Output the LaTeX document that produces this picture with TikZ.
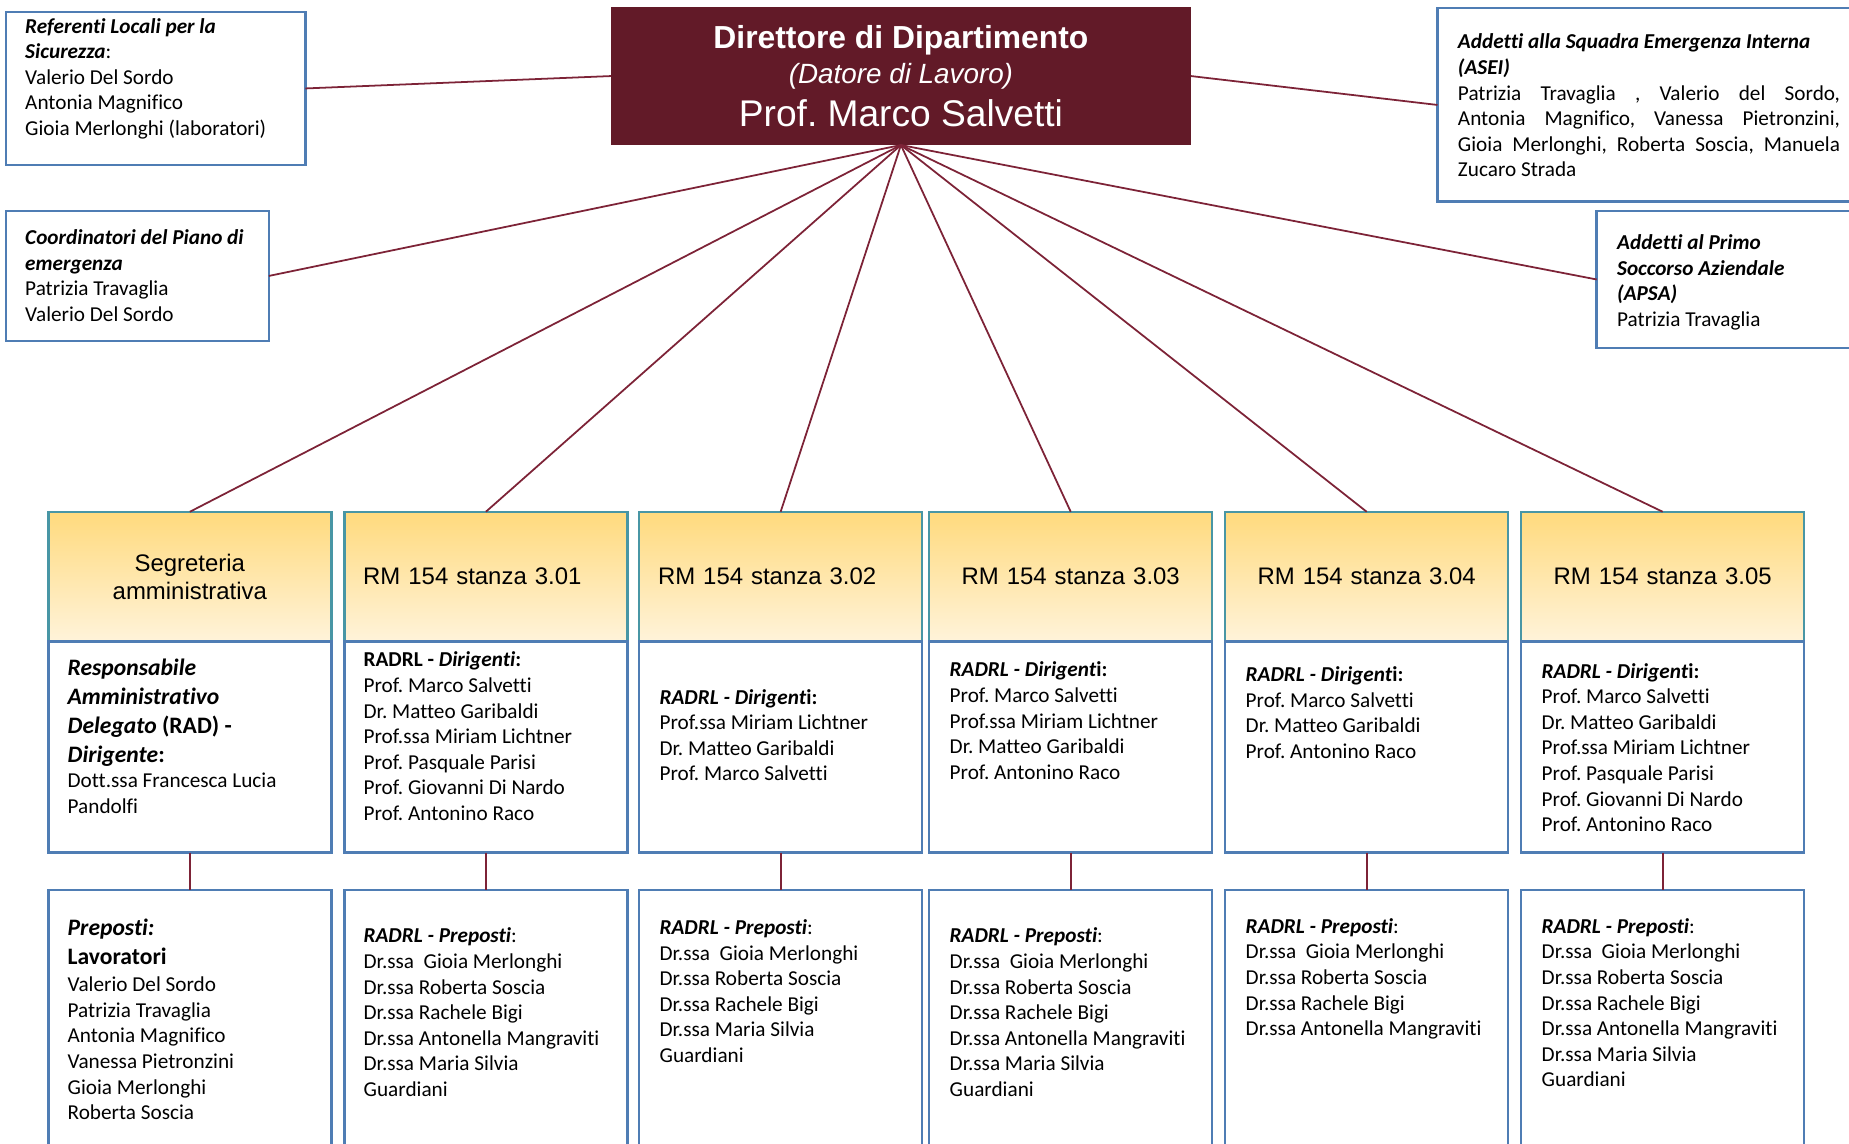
\documentclass[tikz,border=0pt]{standalone}
\usepackage{fontspec}
\setmainfont{Carlito}[Ligatures=NoCommon]
\newfontfamily\arialfont{Liberation Sans}
\usetikzlibrary{positioning}
\frenchspacing

\definecolor{bossred}{RGB}{98,26,40}
\definecolor{linkred}{RGB}{125,35,55}
\definecolor{boxblue}{RGB}{79,125,180}
\definecolor{roomteal}{RGB}{72,150,165}
\definecolor{roomtop}{RGB}{255,218,125}
\definecolor{roombot}{RGB}{255,243,218}

\newcommand{\bfit}[1]{\textbf{\textit{#1}}}
\newcommand{\leadfont}{\fontsize{10}{12.25}\selectfont}

\begin{document}
\begin{tikzpicture}[
    x=0.5pt, y=-0.5pt,
    boss/.style={rectangle, fill=bossred, text=white, minimum width=246pt, minimum height=58.5pt, inner sep=0pt, outer sep=0pt, align=center, font=\arialfont\fontsize{11.8}{14.9}\selectfont},
    infobox/.style={rectangle, draw=boxblue, line width=1pt, fill=white, inner sep=0pt, outer sep=0pt, anchor=north west},
    room/.style={rectangle, draw=roomteal, line width=1pt, top color=roomtop, bottom color=roombot, minimum width=120pt, minimum height=55pt, inner xsep=8pt, inner ysep=0pt, outer sep=0pt, text width=104pt, align=center, anchor=north west, font=\arialfont\fontsize{10.15}{12}\selectfont},
    staff/.style={infobox, minimum width=120pt, minimum height=89.5pt},
    lowbox/.style={infobox, minimum width=120pt, minimum height=125pt},
    names/.style={inner sep=0pt, align=left, font=\fontsize{9}{10.85}\selectfont},
    link/.style={draw=linkred, line width=0.75pt}
  ]

  \clip (0,0) rectangle (1568,969.3);

  % --- DIRETTORE ---
  \node[boss] (boss) at (764,64.5) {{\fontsize{13.5}{15}\selectfont\bfseries Direttore di Dipartimento}\\ {\itshape (Datore di Lavoro)}\\[3pt] {\fontsize{15.75}{18}\selectfont Prof. Marco Salvetti}};

  % --- INCARICHI ---
  \node[infobox, minimum width=127pt, minimum height=65pt] (ref) at (5,10) {};
  \node[names, below right=2.5pt and 8pt of ref.north west] (reftxt) {\bfit{Referenti Locali per la}\\ \bfit{Sicurezza}:\\ Valerio Del Sordo\\ Antonia Magnifico\\ Gioia Merlonghi (laboratori)};

  \node[infobox, minimum width=111.5pt, minimum height=55pt] (coord) at (5,179) {};
  \node[names, below right=7.75pt and 8pt of coord.north west] (coordtxt) {\bfit{Coordinatori del Piano di}\\ \bfit{emergenza}\\ Patrizia Travaglia\\ Valerio Del Sordo};

  \node[infobox, minimum width=200pt, minimum height=82pt] (asei) at (1219,7) {};
  \node[names, below right=10.75pt and 8.5pt of asei.north west] (aseitxt) {\bfit{Addetti alla Squadra Emergenza Interna}\\ \bfit{(ASEI)}\\
    \makebox[162pt][s]{Patrizia Travaglia , Valerio del Sordo,}\\
    \makebox[162pt][s]{Antonia Magnifico, Vanessa Pietronzini,}\\
    \makebox[162pt][s]{Gioia Merlonghi, Roberta Soscia, Manuela}\\
    Zucaro Strada};

  \node[infobox, minimum width=150pt, minimum height=58pt] (apsa) at (1354,179) {};
  \node[names, below right=9.75pt and 8.5pt of apsa.north west] (apsatxt) {\bfit{Addetti al Primo}\\ \bfit{Soccorso Aziendale}\\ \bfit{(APSA)}\\ Patrizia Travaglia};

  % --- STANZE ---
  \node[room] (h1) at (41,434) {Segreteria\\ amministrativa};
  \node[room, align=left] (h2) at (292,434) {RM 154 stanza 3.01};
  \node[room, align=left] (h3) at (542,434) {RM 154 stanza 3.02};
  \node[room] (h4) at (788,434) {RM 154 stanza 3.03};
  \node[room] (h5) at (1039,434) {RM 154 stanza 3.04};
  \node[room] (h6) at (1290,434) {RM 154 stanza 3.05};

  \node[staff, below=0pt of h1] (m1) {};
  \node[staff, below=0pt of h2] (m2) {};
  \node[staff, below=0pt of h3] (m3) {};
  \node[staff, below=0pt of h4] (m4) {};
  \node[staff, below=0pt of h5] (m5) {};
  \node[staff, below=0pt of h6] (m6) {};

  \node[lowbox, below=16pt of m1] (l1) {};
  \node[lowbox, below=16pt of m2] (l2) {};
  \node[lowbox, below=16pt of m3] (l3) {};
  \node[lowbox, below=16pt of m4] (l4) {};
  \node[lowbox, below=16pt of m5] (l5) {};
  \node[lowbox, below=16pt of m6] (l6) {};

  % Dirigenti
  \node[names, below right=7.35pt and 8pt of m1.north west] (m1txt) {{\leadfont\bfit{Responsabile}}\\[1.4pt] {\leadfont\bfit{Amministrativo}}\\[1.4pt] {\leadfont\bfit{Delegato}\textbf{ (RAD) -}}\\[1.2pt] {\leadfont\bfit{Dirigente}\textbf{:}}\\ Dott.ssa Francesca Lucia\\ Pandolfi};
  \node[names, below right=4.25pt and 8pt of m2.north west] (m2txt) {\textbf{RADRL - \textit{Dirigenti}:}\\ Prof. Marco Salvetti\\ Dr. Matteo Garibaldi\\ Prof.ssa Miriam Lichtner\\ Prof. Pasquale Parisi\\ Prof. Giovanni Di Nardo\\ Prof. Antonino Raco};
  \node[names, below right=20pt and 8.5pt of m3.north west] (m3txt) {\textbf{\textit{RADRL - Dirigent}i:}\\ Prof.ssa Miriam Lichtner\\ Dr. Matteo Garibaldi\\ Prof. Marco Salvetti};
  \node[names, below right=8.5pt and 8.5pt of m4.north west] (m4txt) {\textbf{\textit{RADRL - Dirigent}i:}\\ Prof. Marco Salvetti\\ Prof.ssa Miriam Lichtner\\ Dr. Matteo Garibaldi\\ Prof. Antonino Raco};
  \node[names, below right=10.5pt and 8.5pt of m5.north west] (m5txt) {\textbf{\textit{RADRL - Dirigent}i:}\\ Prof. Marco Salvetti\\ Dr. Matteo Garibaldi\\ Prof. Antonino Raco};
  \node[names, below right=9pt and 8.5pt of m6.north west] (m6txt) {\textbf{\textit{RADRL - Dirigent}i:}\\ Prof. Marco Salvetti\\ Dr. Matteo Garibaldi\\ Prof.ssa Miriam Lichtner\\ Prof. Pasquale Parisi\\ Prof. Giovanni Di Nardo\\ Prof. Antonino Raco};

  % Preposti
  \node[names, below right=12pt and 8pt of l1.north west] (l1txt) {{\leadfont\bfit{Preposti:}}\\[1.4pt] {\leadfont\textbf{Lavoratori}}\\[0.7pt] Valerio Del Sordo\\ Patrizia Travaglia\\ Antonia Magnifico\\ Vanessa Pietronzini\\ Gioia Merlonghi\\ Roberta Soscia};
  \node[names, below right=15.75pt and 8pt of l2.north west] (l2txt) {\bfit{RADRL - Preposti}:\\ Dr.ssa\ \ Gioia Merlonghi\\ Dr.ssa Roberta Soscia\\ Dr.ssa Rachele Bigi\\ Dr.ssa Antonella Mangraviti\\ Dr.ssa Maria Silvia\\ Guardiani};
  \node[names, below right=12.25pt and 8.5pt of l3.north west] (l3txt) {\bfit{RADRL - Preposti}:\\ Dr.ssa\ \ Gioia Merlonghi\\ Dr.ssa Roberta Soscia\\ Dr.ssa Rachele Bigi\\ Dr.ssa Maria Silvia\\ Guardiani};
  \node[names, below right=15.75pt and 8.5pt of l4.north west] (l4txt) {\bfit{RADRL - Preposti}:\\ Dr.ssa\ \ Gioia Merlonghi\\ Dr.ssa Roberta Soscia\\ Dr.ssa Rachele Bigi\\ Dr.ssa Antonella Mangraviti\\ Dr.ssa Maria Silvia\\ Guardiani};
  \node[names, below right=11.75pt and 8.5pt of l5.north west] (l5txt) {\bfit{RADRL - Preposti}:\\ Dr.ssa\ \ Gioia Merlonghi\\ Dr.ssa Roberta Soscia\\ Dr.ssa Rachele Bigi\\ Dr.ssa Antonella Mangraviti};
  \node[names, below right=11.75pt and 8.5pt of l6.north west] (l6txt) {\bfit{RADRL - Preposti}:\\ Dr.ssa\ \ Gioia Merlonghi\\ Dr.ssa Roberta Soscia\\ Dr.ssa Rachele Bigi\\ Dr.ssa Antonella Mangraviti\\ Dr.ssa Maria Silvia\\ Guardiani};

  % --- COLLEGAMENTI ---
  \path (ref.east) edge[link] (boss.west);
  \path (boss.east) edge[link] (asei.west);
  \path (boss.south) edge[link] (coord.east)
                     edge[link] (apsa.west)
                     edge[link] (h1.north)
                     edge[link] (h2.north)
                     edge[link] (h3.north)
                     edge[link] (h4.north)
                     edge[link] (h5.north)
                     edge[link] (h6.north);

  \path (m1.south) edge[link] (l1.north);
  \path (m2.south) edge[link] (l2.north);
  \path (m3.south) edge[link] (l3.north);
  \path (m4.south) edge[link] (l4.north);
  \path (m5.south) edge[link] (l5.north);
  \path (m6.south) edge[link] (l6.north);

\end{tikzpicture}
\end{document}
